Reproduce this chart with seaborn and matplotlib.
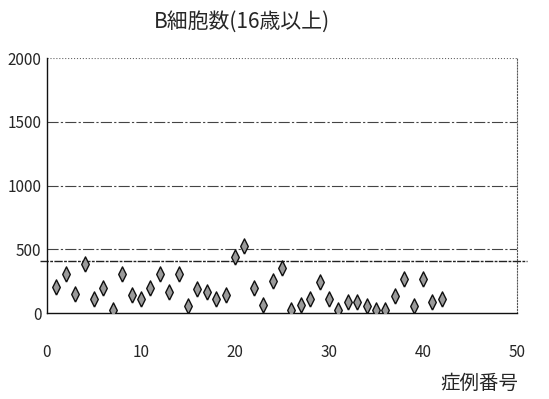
import pandas as pd
import matplotlib
matplotlib.use("Agg")
import matplotlib.pyplot as plt
import seaborn as sns

# データ
case_no = list(range(1, 43))
b_cells = [201, 303, 147, 382, 110, 196, 21, 303, 141, 112,
           193, 303, 167, 306, 52, 188, 165, 110, 141, 437,
           525, 196, 60, 250, 350, 21, 63, 112, 243, 110,
           26, 84, 86, 57, 24, 21, 131, 264, 52, 267,
           84, 107]
ref_value = 410
x_ticks = [0, 10, 20, 30, 40, 50]
y_ticks = [0, 500, 1000, 1500, 2000]

df = pd.DataFrame({"case": case_no, "b": b_cells})

sns.set_style("white")
plt.rcParams["font.family"] = ["Noto Sans CJK JP", "DejaVu Sans"]

fig = plt.figure(figsize=(5.49, 3.99), dpi=100)
ax = fig.add_axes([0.0856, 0.2155, 0.856, 0.639])

# グリッド線
for v in y_ticks[1:-1]:
    ax.axhline(v, color="#444444", lw=0.8, ls=(0, (10, 2, 2, 2)), zorder=1)
ax.axhline(y_ticks[-1], color="#666666", lw=0.8, ls=":", zorder=1)

# 基準線
ax.axhline(ref_value, xmin=-0.015, xmax=1.021, color="#222222", lw=1.0,
           ls=(0, (6, 1, 2, 1)), clip_on=False, zorder=2)

# 細長いひし形マーカー
thin_diamond = [(0, -1), (0.5, 0), (0, 1), (-0.5, 0), (0, -1)]
sns.scatterplot(data=df, x="case", y="b", marker=thin_diamond, s=120,
                color="#9a9a9a", edgecolor="#111111", linewidth=1.0,
                ax=ax, zorder=3)

ax.set_xlim(0, 50)
ax.set_ylim(0, 2000)
ax.set_xticks(x_ticks)
ax.set_yticks(y_ticks)
ax.tick_params(length=0, labelsize=11)
ax.tick_params(axis="x", pad=22)
ax.tick_params(axis="y", pad=4)

for side in ["left", "bottom"]:
    ax.spines[side].set_color("#111111")
    ax.spines[side].set_linewidth(1.0)
ax.spines["top"].set_visible(False)
ax.spines["right"].set_color("#555555")
ax.spines["right"].set_linestyle(":")
ax.spines["right"].set_linewidth(0.8)

ax.set_xlabel("")
ax.set_ylabel("")
fig.text(0.44, 0.945, "B細胞数(16歳以上)", ha="center", va="center", fontsize=15)
fig.text(0.944, 0.04, "症例番号", ha="right", va="center", fontsize=14)

fig.savefig("out.png", dpi=100, facecolor="white")
